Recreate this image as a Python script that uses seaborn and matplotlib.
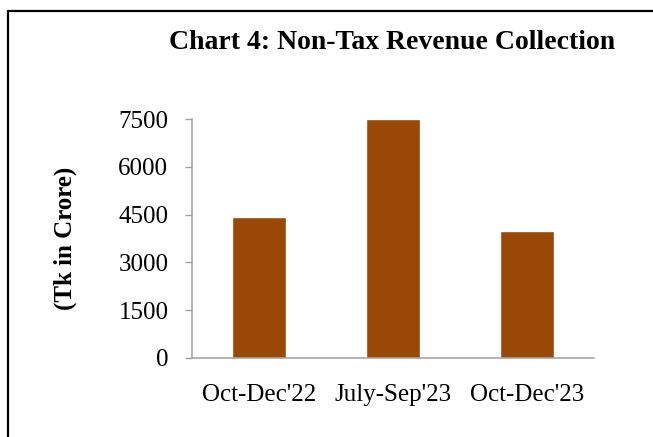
import numpy as np
import pandas as pd
import seaborn as sns
import matplotlib.pyplot as plt
from matplotlib.lines import Line2D

# donnees
periods = ["Oct-Dec'22", "July-Sep'23", "Oct-Dec'23"]
revenue = [4430, 7500, 3985]
yticks = [0, 1500, 3000, 4500, 6000, 7500]

df = pd.DataFrame({'period': periods, 'revenue': revenue})

sns.set_style('white')
plt.rcParams['font.family'] = ['Liberation Serif', 'DejaVu Serif']
plt.rcParams['text.color'] = 'black'
plt.rcParams['axes.labelcolor'] = 'black'
plt.rcParams['xtick.color'] = 'black'
plt.rcParams['ytick.color'] = 'black'

fig = plt.figure(figsize=(6.53, 4.37), dpi=100)
ax = fig.add_axes([0.294, 0.1815, 0.616, 0.5455])

sns.barplot(data=df, x='period', y='revenue', color='#9A4806', width=0.4,
            saturation=1, ax=ax)

ax.set_xlim(-0.5, 2.5)
ax.set_ylim(0, 7500)
ax.set_yticks(yticks)
ax.set_xlabel('')
ax.set_ylabel('(Tk in Crore)', fontsize=18, fontweight='bold')
ax.yaxis.set_label_coords(-0.285, 0.5)

ax.tick_params(axis='y', labelsize=18, length=5, width=1, color='#A0A0A0',
               labelcolor='black', pad=12, left=True)
ax.tick_params(axis='x', labelsize=18, length=0, pad=19, labelcolor='black')

for s in ['top', 'right']:
    ax.spines[s].set_visible(False)
for s in ['left', 'bottom']:
    ax.spines[s].set_color('#A0A0A0')
    ax.spines[s].set_linewidth(1.1)

fig.text(0.6, 0.902, 'Chart 4: Non-Tax Revenue Collection', fontsize=20,
         fontweight='bold', ha='center', va='center', color='black')

# cadre
fig.add_artist(Line2D([0.0123, 0.0123], [0, 0.9748], color='black', lw=1.6))
fig.add_artist(Line2D([0.0123, 1], [0.9748, 0.9748], color='black', lw=1.6))

fig.savefig('out.png', dpi=100)
